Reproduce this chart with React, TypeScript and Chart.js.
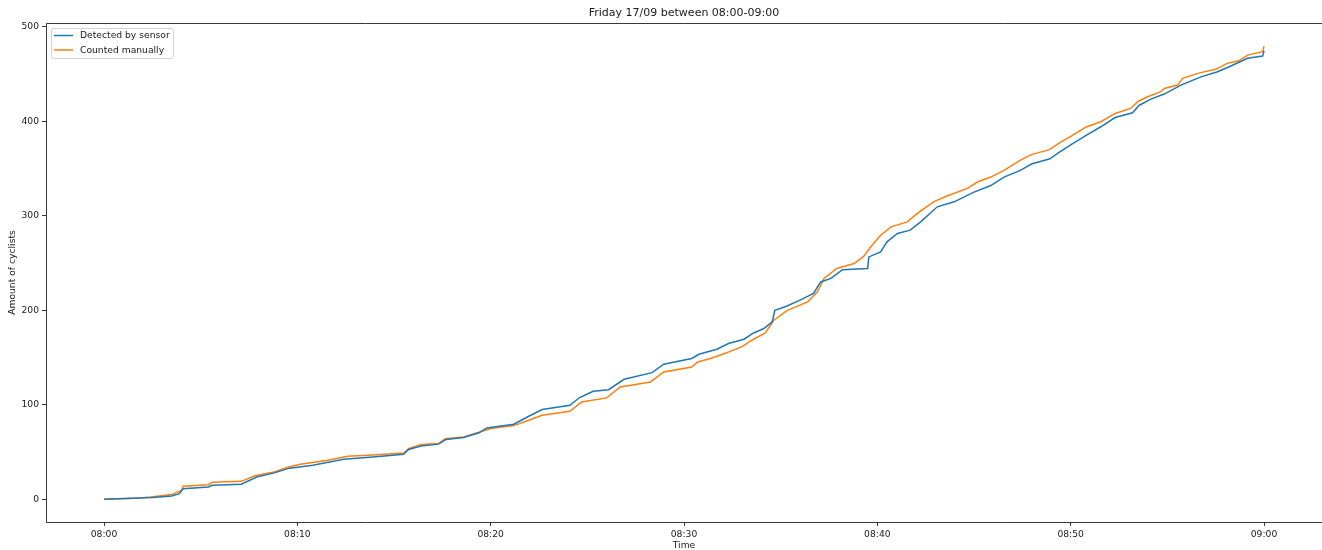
import React, { useEffect, useRef } from "react";
import { Chart, registerables } from "chart.js";

Chart.register(...registerables);

const TITLE = "Friday 17/09 between 08:00-09:00";
const X_LABEL = "Time";
const Y_LABEL = "Amount of cyclists";
const SERIES_NAMES = ["Detected by sensor", "Counted manually"];
const SERIES_COLORS = ["#1f77b4", "#ff7f0e"];

const X_TICK_MINUTES = [0, 10, 20, 30, 40, 50, 60];
const X_TICK_LABELS = ["08:00", "08:10", "08:20", "08:30", "08:40", "08:50", "09:00"];
const Y_TICKS = [0, 100, 200, 300, 400, 500];

// minutes after 08:00 and cumulative counts
const SENSOR_MIN = [
  0, 1.5, 2.5, 3.5, 3.9, 4.1, 5.4, 5.6, 7.1, 7.9, 8.8, 9.6, 10.8, 12.4, 13.9, 15.5, 15.75, 16.4,
  17.3, 17.7, 18.6, 19.4, 19.8, 21.2, 21.97, 22.66, 24.1, 24.6, 25.3, 26.1, 26.9, 28.35, 28.95,
  30.4, 30.77, 31.7, 32.3, 33.1, 33.6, 34.13, 34.56, 34.7, 35.3, 36.0, 36.7, 37.07, 37.6, 38.2,
  39.5, 39.56, 40.17, 40.5, 41.04, 41.7, 42.24, 43.1, 43.97, 45.0, 45.87, 46.55, 47.4, 48.0,
  48.9, 49.4, 50.0, 50.8, 51.56, 52.3, 53.2, 53.55, 54.15, 54.84, 55.7, 56.74, 57.6, 58.2,
  59.15, 59.93, 60.0,
];
const SENSOR_COUNT = [
  0, 1, 2, 3.5, 6, 11.3, 13, 14.8, 16, 23.6, 28, 33, 36, 42.3, 44.8, 47.7, 52.7, 56.5,
  58.4, 63.4, 65.5, 70.4, 75.5, 79.4, 87.9, 95, 99.5, 107.7, 114.3, 116, 127, 134, 143,
  149, 153.5, 158.8, 164.8, 169.4, 176, 180.7, 187.7, 200, 204.3, 210.7, 217.8, 230, 233.7, 243,
  244.2, 256.5, 261.8, 272.4, 281.3, 284.8, 293.6, 309.5, 314.8, 325, 332, 341, 348, 355,
  360, 367, 375, 385, 394.2, 404, 409, 417, 423.5, 428.8, 438.3, 447, 452.4, 457.7,
  466.6, 469, 474.6,
];

const MANUAL_MIN = [
  0, 1.5, 2.4, 3.5, 4.0, 4.1, 5.4, 5.6, 7.1, 7.8, 8.8, 9.5, 10.15, 11.5, 12.6, 13.9, 15.5, 15.75,
  16.4, 17.3, 17.65, 18.6, 19.4, 20.0, 21.2, 21.97, 22.66, 24.1, 24.7, 26.0, 26.7, 28.27, 28.95,
  30.4, 30.7, 31.37, 32.2, 33.0, 33.6, 34.2, 34.65, 35.34, 36.4, 36.9, 37.24, 37.9, 38.8, 39.3,
  39.65, 40.17, 40.7, 41.55, 42.07, 42.93, 43.6, 44.66, 45.2, 45.87, 46.55, 47.4, 48.0, 48.9,
  49.4, 50.0, 50.8, 51.56, 52.3, 53.1, 53.46, 53.98, 54.67, 54.84, 55.53, 55.79, 56.57, 57.5,
  58.1, 58.7, 59.15, 59.93, 60.0,
];
const MANUAL_COUNT = [
  0, 1, 2.4, 5, 9.5, 13.8, 15.5, 18, 19, 25, 29, 34, 37, 41, 45.5, 47, 49, 53.6,
  58, 59, 64, 66, 71, 75, 78, 83.6, 89, 93.2, 103, 107.3, 118.9, 124.2, 134.8,
  140, 145.4, 149, 155, 161.5, 169.4, 176, 189.5, 200, 208.9, 219.5, 233.7, 244.2, 249.5, 257.3,
  267, 279.5, 288.3, 293.6, 302.5, 315, 321, 329, 336, 341, 348, 359, 365, 370,
  377, 384, 394, 399.5, 408.3, 413.6, 420.7, 426, 431.3, 434.8, 438.3, 445.4, 450.7, 455,
  461.3, 464, 470, 473.6, 479.6,
];

const FONT = "'DejaVu Sans', sans-serif";
const TEXT_COLOR = "#1a1a1a";

const framePlugin = {
  id: "framePlugin",
  afterDraw(chart: any) {
    const { ctx, chartArea } = chart;
    const { left, right, top, bottom } = chartArea;
    ctx.save();
    // spines (right spine lies beyond the picture edge)
    ctx.strokeStyle = "#222";
    ctx.lineWidth = 0.9;
    ctx.beginPath();
    ctx.moveTo(right + 2, top + 0.5);
    ctx.lineTo(left + 0.5, top + 0.5);
    ctx.lineTo(left + 0.5, bottom + 0.5);
    ctx.lineTo(right + 2, bottom + 0.5);
    ctx.stroke();
    // title
    ctx.fillStyle = TEXT_COLOR;
    ctx.font = `11px ${FONT}`;
    ctx.textAlign = "center";
    ctx.textBaseline = "middle";
    ctx.fillText(TITLE, (left + right) / 2, 13);
    // legend
    const bx = left + 5;
    const by = top + 5;
    const bw = 122;
    const bh = 30;
    ctx.beginPath();
    if ((ctx as any).roundRect) (ctx as any).roundRect(bx + 0.5, by + 0.5, bw, bh, 2.5);
    else ctx.rect(bx + 0.5, by + 0.5, bw, bh);
    ctx.fillStyle = "rgba(255,255,255,0.8)";
    ctx.fill();
    ctx.strokeStyle = "#d4d4d4";
    ctx.lineWidth = 1;
    ctx.stroke();
    ctx.font = `9.2px ${FONT}`;
    ctx.textAlign = "left";
    SERIES_NAMES.forEach((name, i) => {
      const cy = by + 7.5 + i * 14.5;
      ctx.strokeStyle = SERIES_COLORS[i];
      ctx.lineWidth = 1.5;
      ctx.beginPath();
      ctx.moveTo(bx + 3, cy);
      ctx.lineTo(bx + 22, cy);
      ctx.stroke();
      ctx.fillStyle = TEXT_COLOR;
      ctx.fillText(name, bx + 29, cy + 0.5);
    });
    ctx.restore();
  },
};

export default function App() {
  const canvasRef = useRef<HTMLCanvasElement | null>(null);

  useEffect(() => {
    const canvas = canvasRef.current;
    if (!canvas) return;
    const toPoints = (xs: number[], ys: number[]) => xs.map((x, i) => ({ x, y: ys[i] }));
    const chart = new Chart(canvas, {
      type: "line",
      data: {
        datasets: [
          {
            label: SERIES_NAMES[0],
            data: toPoints(SENSOR_MIN, SENSOR_COUNT),
            borderColor: SERIES_COLORS[0],
            backgroundColor: SERIES_COLORS[0],
            borderWidth: 1.5,
            pointRadius: 0,
            tension: 0,
            fill: false,
          },
          {
            label: SERIES_NAMES[1],
            data: toPoints(MANUAL_MIN, MANUAL_COUNT),
            borderColor: SERIES_COLORS[1],
            backgroundColor: SERIES_COLORS[1],
            borderWidth: 1.5,
            pointRadius: 0,
            tension: 0,
            fill: false,
          },
        ],
      },
      options: {
        animation: false,
        responsive: false,
        devicePixelRatio: 1,
        layout: { padding: { top: 23, left: 0, right: 0, bottom: 0 } },
        plugins: {
          legend: { display: false },
          title: { display: false },
          tooltip: { enabled: false },
        },
        scales: {
          x: {
            type: "linear",
            min: -3,
            max: 63,
            afterBuildTicks: (s: any) => {
              s.ticks = X_TICK_MINUTES.map((v) => ({ value: v }));
            },
            afterFit: (s: any) => {
              s.height = 28;
            },
            ticks: {
              autoSkip: false,
              maxRotation: 0,
              padding: 3,
              color: TEXT_COLOR,
              font: { family: FONT, size: 9.2 },
              callback: (v: any) => {
                const i = X_TICK_MINUTES.indexOf(Number(v));
                return i >= 0 ? X_TICK_LABELS[i] : "";
              },
            },
            grid: {
              drawOnChartArea: false,
              drawTicks: true,
              tickLength: 4,
              tickColor: "#222",
              tickWidth: 0.9,
            },
            border: { display: false },
            title: {
              display: true,
              text: X_LABEL,
              color: TEXT_COLOR,
              font: { family: FONT, size: 9.2, lineHeight: 1 },
              padding: { top: 0, bottom: 0 },
            },
          },
          y: {
            type: "linear",
            min: -24,
            max: 504,
            afterBuildTicks: (s: any) => {
              s.ticks = Y_TICKS.map((v) => ({ value: v }));
            },
            afterFit: (s: any) => {
              s.width = 46;
            },
            ticks: {
              padding: 3,
              color: TEXT_COLOR,
              font: { family: FONT, size: 9.2 },
              callback: (v: any) => String(v),
            },
            grid: {
              drawOnChartArea: false,
              drawTicks: true,
              tickLength: 4,
              tickColor: "#222",
              tickWidth: 0.9,
            },
            border: { display: false },
            title: {
              display: true,
              text: Y_LABEL,
              color: TEXT_COLOR,
              font: { family: FONT, size: 9.2, lineHeight: 1.2 },
              padding: { top: 7, bottom: 0 },
            },
          },
        },
      },
      plugins: [framePlugin],
    });
    return () => chart.destroy();
  }, []);

  return (
    <div style={{ position: "fixed", left: 0, top: 0, width: 1322, height: 550, background: "#fff" }}>
      <canvas ref={canvasRef} width={1322} height={550} style={{ display: "block" }} />
    </div>
  );
}
